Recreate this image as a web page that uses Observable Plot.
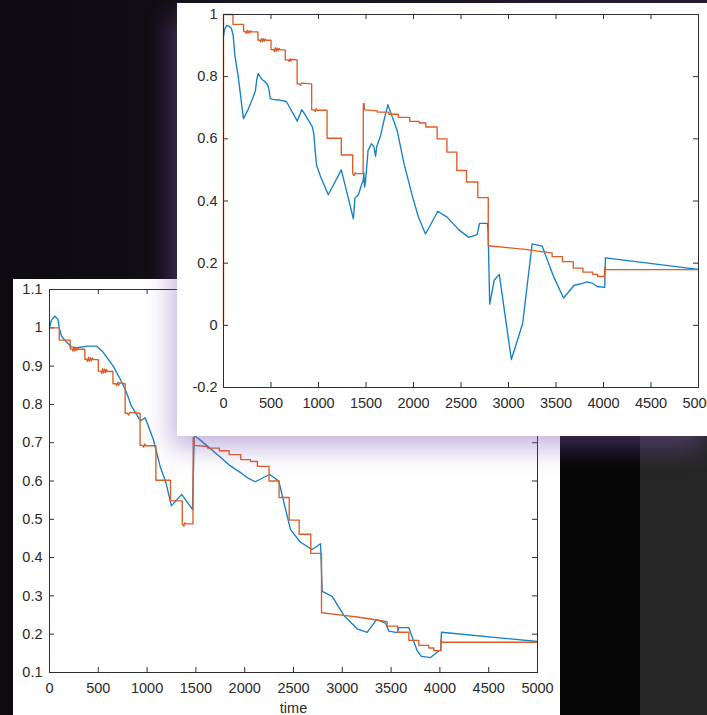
<!DOCTYPE html>
<html>
<head>
<meta charset="utf-8">
<script src="https://cdn.jsdelivr.net/npm/d3@7"></script>
<script src="https://cdn.jsdelivr.net/npm/@observablehq/plot@0.6"></script>
<style>
html, body { margin: 0; padding: 0; }
body { width: 707px; height: 715px; overflow: hidden; position: relative;
  background: linear-gradient(90deg, #0d0b10 0%, #17121c 60%, #231b2c 100%); }
#blk { position: absolute; left: 560px; top: 436px; width: 80px; height: 279px; background: #060606; }
#gry { position: absolute; left: 640px; top: 436px; width: 67px; height: 279px; background: #262626; }
#back { position: absolute; left: 13px; top: 279px; width: 547px; height: 436px; background: #fff; }
#front { position: absolute; left: 177px; top: 3px; width: 530px; height: 433px; background: #fff;
  box-shadow: -6px 12px 24px rgba(125, 90, 185, 0.45); }
svg { display: block; }
</style>
</head>
<body>
<div id="blk"></div>
<div id="gry"></div>
<div id="back"></div>
<div id="front"></div>
<script>
// ---------- data ----------
const xTicks = [0, 500, 1000, 1500, 2000, 2500, 3000, 3500, 4000, 4500, 5000];
const backYTicks = [0.1, 0.2, 0.3, 0.4, 0.5, 0.6, 0.7, 0.8, 0.9, 1, 1.1];
const frontYTicks = [-0.2, 0, 0.2, 0.4, 0.6, 0.8, 1];
const xLabelBack = "time";

// red (stepped) series, shared by both figures
const redTime = [0, 100, 100, 212, 212, 230, 240, 250, 260, 270, 280, 290, 300, 362, 362,
  380, 390, 400, 410, 420, 430, 440, 450, 500, 500, 525, 535, 545, 555, 565, 575, 585, 595,
  650, 650, 680, 690, 700, 710, 720, 775, 775, 800, 810, 820, 928, 928, 955, 965, 975, 985,
  1090, 1090, 1240, 1240, 1360, 1360, 1376, 1386, 1396, 1470, 1472, 1480, 1484,
  1620, 1620, 1740, 1740, 1840, 1840, 1960, 1960, 2060, 2060, 2130, 2130, 2249, 2249,
  2352, 2352, 2456, 2456, 2558, 2558, 2677, 2677, 2787, 2787, 3016, 3150, 3255, 3350,
  3459, 3459, 3568, 3568, 3682, 3682, 3784, 3784, 3887, 3887, 3938, 3938, 4010, 4012, 4020, 5000];
const redValue = [1.0, 1.0, 0.968, 0.968, 0.945, 0.945, 0.939, 0.949, 0.940, 0.948, 0.941, 0.947, 0.944, 0.944, 0.918,
  0.918, 0.912, 0.923, 0.913, 0.922, 0.914, 0.921, 0.917, 0.917, 0.887, 0.887, 0.881, 0.893, 0.882, 0.892, 0.883, 0.891, 0.886,
  0.886, 0.854, 0.854, 0.849, 0.858, 0.850, 0.856, 0.854, 0.777, 0.777, 0.772, 0.779, 0.777, 0.693, 0.693, 0.688, 0.697, 0.692,
  0.692, 0.602, 0.602, 0.548, 0.548, 0.488, 0.482, 0.491, 0.488, 0.488, 0.713, 0.713, 0.693,
  0.690, 0.686, 0.686, 0.679, 0.679, 0.669, 0.669, 0.656, 0.656, 0.651, 0.651, 0.638, 0.638, 0.600,
  0.600, 0.557, 0.557, 0.498, 0.498, 0.461, 0.461, 0.411, 0.411, 0.256, 0.249, 0.245, 0.241, 0.237,
  0.233, 0.221, 0.221, 0.205, 0.205, 0.184, 0.184, 0.171, 0.171, 0.164, 0.164, 0.157, 0.157, 0.186, 0.179, 0.179];
// front figure: red starts from 0 at time 0
const frontRedStartTime = [0];
const frontRedStartValue = [0];

// blue series, front figure
const frontBlueTime = [0, 15, 35, 60, 83, 101, 119, 155, 210, 260, 300, 336, 350, 365, 385, 408, 425, 440, 463, 478, 492,
  517, 600, 662, 777, 824, 870, 933, 951, 965, 980, 1023, 1103, 1240, 1276, 1367, 1384, 1420, 1450, 1470, 1478, 1484,
  1492, 1505, 1522, 1558, 1583, 1601, 1612, 1630, 1653, 1690, 1730, 1828, 1900, 1986, 2050, 2126, 2256, 2354, 2477,
  2582, 2670, 2695, 2777, 2786, 2802, 2849, 2903, 3030, 3149, 3249, 3354, 3470, 3579, 3691, 3770, 3825, 3879, 3933,
  4013, 4020, 5000];
const frontBlueValue = [0.93, 0.955, 0.965, 0.962, 0.955, 0.935, 0.87, 0.80, 0.665, 0.695, 0.725, 0.755, 0.79, 0.81, 0.80, 0.79, 0.787, 0.783, 0.775, 0.76, 0.73,
  0.727, 0.724, 0.72, 0.657, 0.694, 0.672, 0.64, 0.616, 0.56, 0.515, 0.477, 0.42, 0.50, 0.456, 0.343, 0.41, 0.42, 0.45, 0.466, 0.49, 0.445,
  0.455, 0.50, 0.563, 0.584, 0.575, 0.544, 0.574, 0.59, 0.61, 0.66, 0.71, 0.627, 0.52, 0.418, 0.35, 0.294, 0.367, 0.348, 0.307,
  0.283, 0.292, 0.328, 0.328, 0.30, 0.068, 0.145, 0.164, -0.11, 0.006, 0.262, 0.255, 0.160, 0.088, 0.129, 0.134, 0.14, 0.136, 0.125,
  0.122, 0.217, 0.18];

// blue series, back figure
const backBlueTime = [0, 20, 56, 86, 100, 123, 149, 224, 280, 392, 485, 541, 653, 727, 783, 839, 932, 981, 1063, 1137,
  1193, 1249, 1354, 1465, 1484, 1500, 1530, 1600, 1734, 1850, 1958, 2030, 2107, 2256, 2349, 2469, 2572, 2691, 2777,
  2794, 2896, 3016, 3152, 3255, 3350, 3443, 3477, 3562, 3579, 3682, 3767, 3810, 3904, 3990, 4008, 4016, 5000];
const backBlueValue = [1.0, 1.02, 1.03, 1.022, 1.0, 0.978, 0.97, 0.95, 0.948, 0.952, 0.952, 0.939, 0.9, 0.865, 0.835, 0.796, 0.757, 0.765, 0.709, 0.635,
  0.596, 0.535, 0.565, 0.526, 0.725, 0.715, 0.71, 0.695, 0.666, 0.64, 0.622, 0.608, 0.598, 0.617, 0.6, 0.473, 0.44, 0.421, 0.436,
  0.312, 0.299, 0.249, 0.214, 0.205, 0.238, 0.229, 0.208, 0.204, 0.217, 0.217, 0.157, 0.142, 0.139, 0.157, 0.157, 0.205, 0.181];

// ---------- build ----------
const zip = (ts, vs) => ts.map((t, i) => ({t, v: vs[i]}));
const red = zip(redTime, redValue);
const frontRed = zip(frontRedStartTime, frontRedStartValue).concat(red);
const frontBlue = zip(frontBlueTime, frontBlueValue);
const backBlue = zip(backBlueTime, backBlueValue);

const BLUE = "#1580c8", ORANGE = "#de5d25", AXIS = "#2e2e2e";
const fmt = d => String(Math.round(d * 10) / 10);

function matlabFigure({width, height, mt, mr, mb, ml, yDomain, yTicks, blue, redData, xLabel, yPad}) {
  const innerW = width - ml - mr, innerH = height - mt - mb, tick = 5;
  return Plot.plot({
    width, height, marginTop: mt, marginRight: mr, marginBottom: mb, marginLeft: ml,
    style: {background: "transparent", fontFamily: "'Liberation Sans', Arial, Helvetica, sans-serif",
      fontSize: "14.5px", color: "#2a2a2a", overflow: "visible"},
    x: {domain: [0, 5000]},
    y: {domain: yDomain},
    marks: [
      Plot.axisX(xTicks, {tickSize: 0, tickPadding: 10, tickFormat: d => String(d), fill: "#2a2a2a",
        label: xLabel, labelAnchor: "center", labelOffset: 40, labelArrow: "none"}),
      Plot.axisY(yTicks, {tickSize: 0, tickPadding: yPad, tickFormat: fmt, fill: "#2a2a2a", label: null}),
      Plot.tickX(xTicks, {x: d => d, insetTop: innerH - tick, stroke: AXIS}),
      Plot.tickX(xTicks, {x: d => d, insetBottom: innerH - tick, stroke: AXIS}),
      Plot.tickY(yTicks, {y: d => d, insetRight: innerW - tick, stroke: AXIS}),
      Plot.tickY(yTicks, {y: d => d, insetLeft: innerW - tick, stroke: AXIS}),
      Plot.line(blue, {x: "t", y: "v", stroke: BLUE, strokeWidth: 1.35}),
      Plot.line(redData, {x: "t", y: "v", stroke: ORANGE, strokeWidth: 1.35}),
      Plot.frame({stroke: AXIS, strokeWidth: 1})
    ]
  });
}

document.getElementById("back").append(matlabFigure({
  width: 547, height: 436, mt: 10, mr: 23, mb: 43, ml: 36,
  yDomain: [0.1, 1.1], yTicks: backYTicks, blue: backBlue, redData: red, xLabel: xLabelBack, yPad: 7
}));
document.getElementById("front").append(matlabFigure({
  width: 530, height: 433, mt: 11, mr: 9, mb: 49, ml: 46,
  yDomain: [-0.2, 1], yTicks: frontYTicks, blue: frontBlue, redData: frontRed, xLabel: null, yPad: 6
}));
</script>
</body>
</html>
